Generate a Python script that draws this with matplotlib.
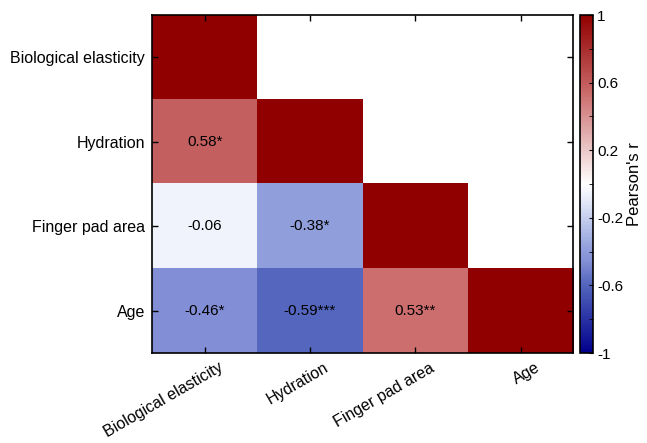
import numpy as np
import matplotlib
matplotlib.use("Agg")
import matplotlib.pyplot as plt
from matplotlib.colors import LinearSegmentedColormap
from matplotlib.ticker import FixedLocator
from matplotlib.transforms import ScaledTranslation

plt.rcParams['font.family'] = ['Liberation Sans', 'DejaVu Sans']

variables = ["Biological elasticity", "Hydration", "Finger pad area", "Age"]
# lower-triangular correlation values (row, col); NaN = not drawn
corr = np.array([
    [1.00, np.nan, np.nan, np.nan],
    [0.58, 1.00, np.nan, np.nan],
    [-0.06, -0.38, 1.00, np.nan],
    [-0.46, -0.59, 0.53, 1.00],
])
labels = [
    ["", "", "", ""],
    ["0.58*", "", "", ""],
    ["-0.06", "-0.38*", "", ""],
    ["-0.46*", "-0.59***", "0.53**", ""],
]
cbar_ticks = [-1, -0.6, -0.2, 0.2, 0.6, 1]
cbar_ticklabels = ["-1", "-0.6", "-0.2", "0.2", "0.6", "1"]

# colour map anchors (position in [0,1] for r in [-1,1], RGB)
cmap_anchors = [
    (0.000, (0, 0, 140)),
    (0.205, (85, 103, 190)),
    (0.270, (130, 143, 214)),
    (0.310, (145, 160, 220)),
    (0.470, (240, 243, 252)),
    (0.500, (255, 255, 255)),
    (0.765, (204, 110, 110)),
    (0.790, (197, 96, 96)),
    (1.000, (145, 0, 0)),
]
cmap = LinearSegmentedColormap.from_list(
    "rb", [(p, tuple(c / 255 for c in rgb)) for p, rgb in cmap_anchors], N=256)
cmap.set_bad("white")

fig = plt.figure(figsize=(6.47, 4.43), dpi=100)
ax = fig.add_axes([0.235, 0.203, 0.651, 0.763])
cax = fig.add_axes([0.8965, 0.203, 0.020, 0.763])

data = np.ma.masked_invalid(corr)
im = ax.imshow(data, cmap=cmap, vmin=-1, vmax=1, aspect="auto",
               interpolation="nearest")

for i in range(len(variables)):
    for j in range(len(variables)):
        if labels[i][j]:
            ax.text(j, i, labels[i][j], ha="center", va="center",
                    fontsize=11, color="black")

ax.set_xticks(range(len(variables)))
ax.set_yticks(range(len(variables)))
ax.set_xticklabels(variables, rotation=30, ha="right", rotation_mode="anchor",
                   fontsize=11.5)
ax.set_yticklabels(variables, fontsize=11.5)
ax.tick_params(direction="in", top=True, right=True, length=4, width=1,
               pad=5)
shift = ScaledTranslation(14 / 100, 0, fig.dpi_scale_trans)
for lab in ax.get_xticklabels():
    lab.set_transform(lab.get_transform() + shift)
for s in ax.spines.values():
    s.set_linewidth(1.2)

cb = fig.colorbar(im, cax=cax)
cb.set_ticks(cbar_ticks)
cb.set_ticklabels(cbar_ticklabels)
cb.ax.yaxis.set_minor_locator(FixedLocator([-0.8, -0.4, 0.0, 0.4, 0.8]))
cb.ax.tick_params(which="both", direction="in", length=3, labelsize=11, pad=3)
cb.outline.set_linewidth(1.2)
cb.set_label("Pearson's r", fontsize=12, labelpad=3)

fig.savefig("out.png", dpi=100)
